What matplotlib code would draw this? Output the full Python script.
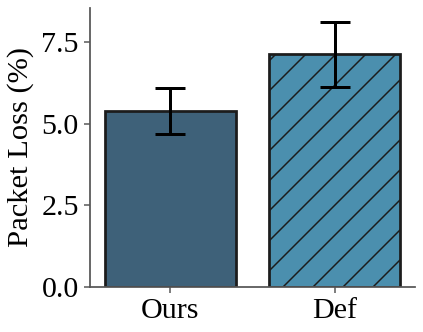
import matplotlib
matplotlib.use("Agg")
import matplotlib.pyplot as plt

# data
methods = ["Ours", "Def"]
loss_mean = [5.38, 7.12]
loss_err = [0.70, 0.99]
colors = ["#3e6179", "#4b8fae"]
hatches = ["", "//"]

plt.rcParams["font.family"] = ["Liberation Serif", "DejaVu Serif"]
plt.rcParams["hatch.linewidth"] = 0.6

fig = plt.figure(figsize=(4.23 / 1.8, 3.32 / 1.8), dpi=180)
ax = fig.add_axes([0.213, 0.135, 0.768, 0.842])

bars = ax.bar(methods, loss_mean, width=0.8, color=colors,
              edgecolor="#1c1c1c", linewidth=1.1)
for b, h in zip(bars, hatches):
    b.set_hatch(h)
ax.errorbar(methods, loss_mean, yerr=loss_err, fmt="none",
            ecolor="black", elinewidth=1.2, capsize=6, capthick=1.2)

ax.set_ylim(0, 8.55)
ax.set_yticks([0, 2.5, 5.0, 7.5])
ax.set_ylabel("Packet Loss (%)", fontsize=12.2, labelpad=3)
ax.tick_params(labelsize=12, colors="#555555", length=2.5, width=0.6,
               labelcolor="black", pad=2)

for s in ["top", "right"]:
    ax.spines[s].set_visible(False)
for s in ["left", "bottom"]:
    ax.spines[s].set_color("#555555")
    ax.spines[s].set_linewidth(0.7)

fig.savefig("out.png", dpi=180)
